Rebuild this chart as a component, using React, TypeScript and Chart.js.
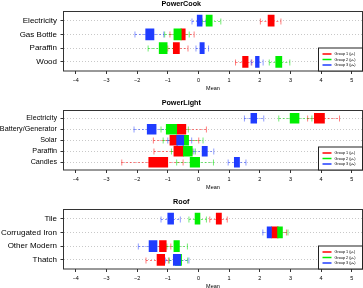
import React, { useEffect, useRef } from 'react';
import { Chart, registerables } from 'chart.js';

Chart.register(...registerables);

const FONT = '"Liberation Sans", Arial, Helvetica, sans-serif';
Chart.defaults.font.family = FONT;
Chart.defaults.color = '#000';

// ---------- data ----------
const xTickValues = [-4, -3, -2, -1, 0, 1, 2, 3, 4, 5];
const xAxisTitle = 'Mean';
const groupLabels = ['Group 1 (μ₁)', 'Group 2 (μ₂)', 'Group 3 (μ₃)'];

// each row: [lower whisker, box low, box high, upper whisker]
const cookCategories = ['Electricity', 'Gas Bottle', 'Paraffin', 'Wood'];
const cookGroup1 = [[2.02, 2.27, 2.47, 2.69], [-0.93, -0.57, -0.43, -0.14], [-1.0, -0.82, -0.62, -0.34], [1.21, 1.44, 1.62, 1.74]];
const cookGroup2 = [[0.12, 0.25, 0.45, 0.73], [-1.1, -0.8, -0.56, -0.3], [-1.64, -1.28, -1.02, -0.72], [2.31, 2.52, 2.72, 2.98]];
const cookGroup3 = [[-0.21, -0.04, 0.12, 0.25], [-2.07, -1.72, -1.45, -1.13], [-0.08, 0.05, 0.19, 0.33], [1.72, 1.86, 1.98, 2.11]];

const lightCategories = ['Electricity', 'Battery/Generator', 'Solar', 'Paraffin', 'Candles'];
const lightGroup1 = [[3.56, 3.78, 4.11, 4.6], [-1.0, -0.7, -0.41, 0.26], [-1.47, -0.93, -0.68, 0.01], [-1.45, -0.8, -0.49, -0.2], [-2.5, -1.62, -1.0, -0.5]];
const lightGroup2 = [[2.62, 2.99, 3.28, 3.7], [-1.22, -1.05, -0.71, -0.33], [-1.15, -0.51, -0.32, 0.15], [-0.88, -0.49, -0.2, -0.1], [-0.71, -0.27, 0.04, 0.49]];
const lightGroup3 = [[1.5, 1.71, 1.9, 2.13], [-2.1, -1.67, -1.38, -0.97], [-1.0, -0.71, -0.48, -0.22], [-0.15, 0.12, 0.29, 0.5], [0.97, 1.17, 1.34, 1.55]];

const roofCategories = ['Tile', 'Corrugated Iron', 'Other Modern', 'Thatch'];
const roofGroup1 = [[0.37, 0.58, 0.75, 0.94], [2.25, 2.38, 2.6, 2.87], [-1.45, -1.27, -1.05, -0.9], [-1.71, -1.35, -1.1, -0.98]];
const roofGroup2 = [[-0.31, -0.11, 0.05, 0.26], [2.42, 2.58, 2.74, 2.92], [-1.03, -0.8, -0.62, -0.36], [-0.95, -0.75, -0.55, -0.35]];
const roofGroup3 = [[-1.22, -1.0, -0.81, -0.59], [2.1, 2.24, 2.38, 2.5], [-1.96, -1.61, -1.35, -1.1], [-1.08, -0.82, -0.58, -0.31]];

// ---------- styles ----------
const groupColors = ['#ff0000', '#00ee00', '#1f3cff'];
const whiskerColors = ['rgba(255,0,0,0.5)', 'rgba(0,220,0,0.55)', 'rgba(31,60,255,0.5)'];

type PanelDef = {
  title: string;
  categories: string[];
  groups: number[][][];
  labelSize: number;
  barSize: number;
  top: number;
};

const panels: PanelDef[] = [
  { title: 'PowerCook', categories: cookCategories, groups: [cookGroup1, cookGroup2, cookGroup3], labelSize: 8, barSize: 11, top: 0 },
  { title: 'PowerLight', categories: lightCategories, groups: [lightGroup1, lightGroup2, lightGroup3], labelSize: 7.2, barSize: 10, top: 99 },
  { title: 'Roof', categories: roofCategories, groups: [roofGroup1, roofGroup2, roofGroup3], labelSize: 8, barSize: 11, top: 198 },
];

const PANEL_H = 96;

function PanelChart({ panel }: { panel: PanelDef }) {
  const ref = useRef<HTMLCanvasElement>(null);

  useEffect(() => {
    const canvas = ref.current;
    if (!canvas) return;
    const n = panel.categories.length;
    const pad = 0.04 * n;

    const boxPlugin = {
      id: 'boxExtras',
      beforeDatasetsDraw(chart: any) {
        const ctx = chart.ctx;
        const xs = chart.scales.x;
        const ys = chart.scales.y;
        ctx.save();
        panel.groups.forEach((rows, g) => {
          ctx.strokeStyle = whiskerColors[g];
          ctx.lineWidth = 1;
          rows.forEach((r, i) => {
            const y = Math.round(ys.getPixelForValue(i + 1)) + 0.5;
            const x1 = xs.getPixelForValue(r[0]);
            const x2 = xs.getPixelForValue(r[3]);
            ctx.setLineDash([2, 2]);
            ctx.beginPath();
            ctx.moveTo(x1, y);
            ctx.lineTo(x2, y);
            ctx.stroke();
            ctx.setLineDash([]);
            ctx.beginPath();
            ctx.moveTo(x1, y - 3);
            ctx.lineTo(x1, y + 3);
            ctx.moveTo(x2, y - 3);
            ctx.lineTo(x2, y + 3);
            ctx.stroke();
          });
        });
        ctx.restore();
      },
      afterDraw(chart: any) {
        const ctx = chart.ctx;
        const ca = chart.chartArea;
        ctx.save();
        ctx.strokeStyle = '#333';
        ctx.lineWidth = 1;
        ctx.strokeRect(ca.left, ca.top, ca.right - ca.left, ca.bottom - ca.top);
        // legend
        const w = 44;
        const h = 23;
        const lx = ca.right - w;
        const ly = ca.bottom - h;
        ctx.fillStyle = '#fff';
        ctx.fillRect(lx, ly, w, h);
        ctx.strokeStyle = '#222';
        ctx.strokeRect(lx, ly, w, h);
        groupLabels.forEach((label, g) => {
          const y = ly + 6 + g * 5.5;
          ctx.strokeStyle = groupColors[g];
          ctx.lineWidth = 1.5;
          ctx.beginPath();
          ctx.moveTo(lx + 4, y);
          ctx.lineTo(lx + 13, y);
          ctx.stroke();
          ctx.fillStyle = '#000';
          ctx.font = `3.8px ${FONT}`;
          ctx.textBaseline = 'middle';
          ctx.textAlign = 'left';
          ctx.fillText(label, lx + 16, y);
        });
        ctx.restore();
      },
    };

    const datasets = panel.groups.map((rows, g) => ({
      label: groupLabels[g],
      data: rows.map((r, i) => ({ x: [r[1], r[2]], y: i + 1 })),
      backgroundColor: groupColors[g],
      borderWidth: 0,
      barThickness: panel.barSize,
      grouped: false,
      order: 3 - g,
    }));

    const chart = new Chart(canvas, {
      type: 'bar',
      data: { datasets } as any,
      options: {
        indexAxis: 'y',
        responsive: false,
        maintainAspectRatio: false,
        devicePixelRatio: 1,
        animation: false,
        layout: { padding: { left: 0, right: 0.5, top: 0, bottom: 0 } },
        plugins: {
          legend: { display: false },
          tooltip: { enabled: false },
          title: {
            display: true,
            text: panel.title,
            color: '#000',
            font: { size: 7.2, weight: 'bold', family: FONT },
            padding: { top: 0, bottom: 2.86 },
          },
        },
        scales: {
          x: {
            type: 'linear',
            min: -4.4,
            max: 5.35,
            offset: false,
            afterBuildTicks: (scale: any) => {
              scale.ticks = xTickValues.map((v) => ({ value: v }));
            },
            afterFit: (scale: any) => {
              scale.height = 25;
            },
            ticks: {
              autoSkip: false,
              maxRotation: 0,
              padding: 3.2,
              color: '#000',
              font: { size: 5.5, family: FONT },
              callback: (v: any) => (Number(v) < 0 ? '\u2212' + Math.abs(Number(v)) : String(v)),
            },
            grid: {
              drawOnChartArea: false,
              drawTicks: true,
              tickLength: 3,
              tickColor: '#333',
              tickWidth: 1,
              offset: false,
            },
            border: { display: false },
            title: {
              display: true,
              text: xAxisTitle,
              color: '#000',
              font: { size: 5.5, family: FONT },
              padding: { top: 0, bottom: 4.2 },
            },
          },
          y: {
            type: 'linear',
            reverse: true,
            offset: false,
            min: 0.5 - pad,
            max: n + 0.5 + pad,
            afterBuildTicks: (scale: any) => {
              scale.ticks = panel.categories.map((_, i) => ({ value: i + 1 }));
            },
            afterFit: (scale: any) => {
              scale.width = 63.5;
            },
            ticks: {
              autoSkip: false,
              padding: 3.5,
              color: '#000',
              font: { size: panel.labelSize, family: FONT },
              callback: (v: any) => panel.categories[Number(v) - 1] ?? '',
            },
            grid: {
              color: '#c8c8c8',
              lineWidth: 1,
              offset: false,
              drawOnChartArea: true,
              drawTicks: true,
              tickLength: 3,
              tickColor: '#333',
              tickWidth: 1,
            },
            border: { display: false, dash: [1, 2] },
          },
        },
      } as any,
      plugins: [boxPlugin],
    });

    return () => chart.destroy();
  }, [panel]);

  return <canvas ref={ref} width={363} height={PANEL_H} style={{ display: 'block' }} />;
}

export default function App() {
  return (
    <div
      style={{
        position: 'fixed',
        left: 0,
        top: 0,
        width: 363,
        height: 288,
        overflow: 'hidden',
        background: '#fff',
      }}
    >
      {panels.map((p) => (
        <div key={p.title} style={{ position: 'absolute', left: 0, top: p.top, width: 363, height: PANEL_H }}>
          <PanelChart panel={p} />
        </div>
      ))}
    </div>
  );
}
